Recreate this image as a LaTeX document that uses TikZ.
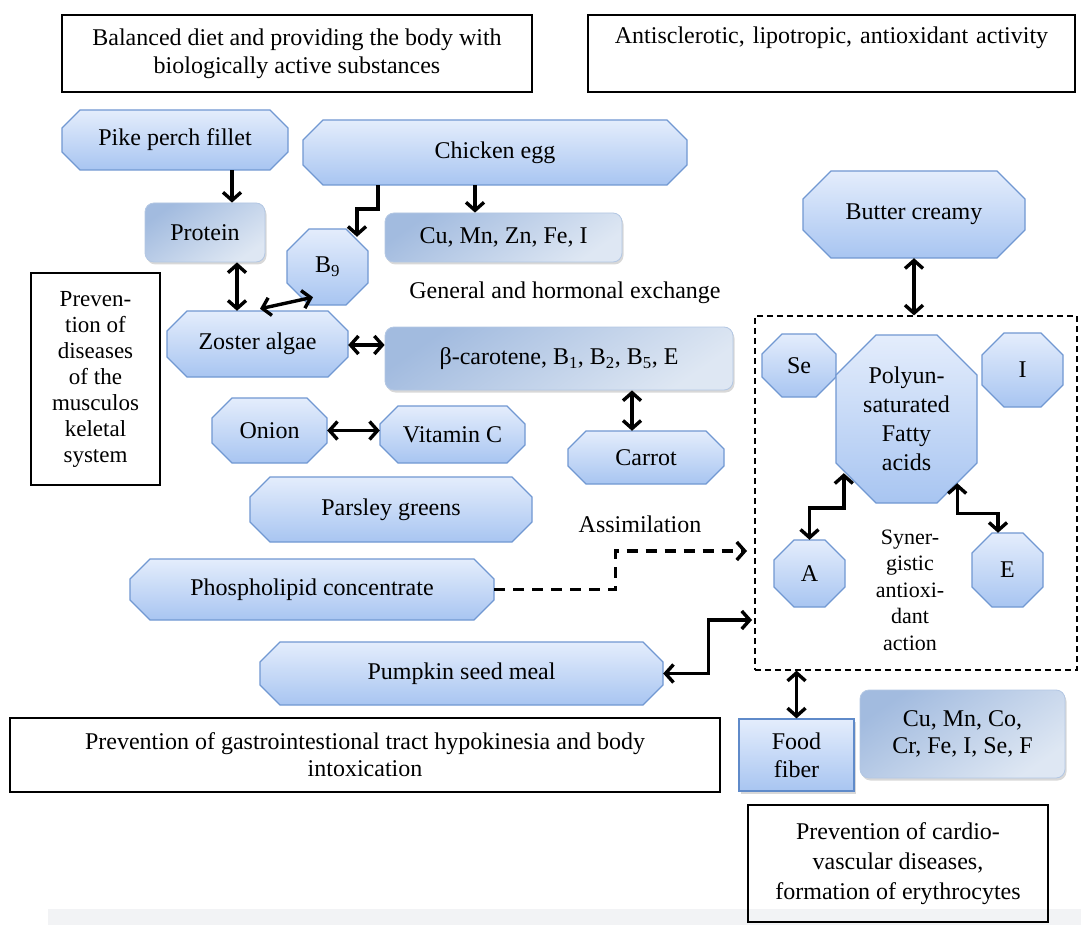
\documentclass[tikz,border=0pt]{standalone}
\usepackage{fontspec}
\setmainfont{Liberation Serif}
\usetikzlibrary{arrows.meta,shadows}
\definecolor{octtop}{HTML}{E4EDFC}
\definecolor{octbot}{HTML}{A8C5F1}
\definecolor{octline}{HTML}{7198D2}
\definecolor{rrdark}{HTML}{A2BBDF}
\definecolor{rrlight}{HTML}{DEE7F3}
\definecolor{rrline}{HTML}{B3C7E3}
\definecolor{ffline}{HTML}{5F8AC9}
\definecolor{bandgray}{HTML}{F2F3F5}
\tikzset{
  octfill/.style={draw=octline, line width=1.3pt, line join=round, top color=octtop, bottom color=octbot},
  octtext/.style={font=\fontsize{24}{29}\selectfont, inner sep=0pt, align=center},
  rrbox/.style={rounded corners=9pt, draw=rrline, line width=0.8pt, top color=rrdark, bottom color=rrlight, shading angle=35,
    drop shadow={shadow xshift=1.5pt, shadow yshift=-2.5pt, opacity=0.3},
    font=\fontsize{24}{27}\selectfont, align=center, inner sep=0pt},
  ffbox/.style={draw=ffline, line width=1.2pt, top color=octtop, bottom color=octbot,
    drop shadow={shadow xshift=1.5pt, shadow yshift=-2.5pt, opacity=0.3},
    font=\fontsize{24}{28}\selectfont, align=center, inner sep=0pt},
  plainbox/.style={draw=black, line width=1.1pt, align=center, inner sep=0pt, font=\fontsize{24}{28}\selectfont},
  dbox/.style={draw=black, line width=1.2pt, dash pattern=on 6pt off 4pt, inner sep=0pt},
  freetext/.style={font=\fontsize{24}{28}\selectfont, inner sep=0pt, align=center},
  conn/.style={draw=black, line width=3.4pt},
  dconn/.style={conn, dash pattern=on 11pt off 8pt},
  >={Straight Barb[length=8pt,width=18pt]}
}
% name, x1, y1, x2, y2, chamfer, text
\newcommand\octnode[7]{%
  \path[octfill] ({#2+#6},#3) -- ({#4-#6},#3) -- (#4,{#3+#6}) -- (#4,{#5-#6}) -- ({#4-#6},#5) -- ({#2+#6},#5) -- (#2,{#5-#6}) -- (#2,{#3+#6}) -- cycle;
  \node[octtext, minimum width={(#4-#2)*1pt}, minimum height={(#5-#3)*1pt}] (#1) at ({(#2+#4)/2},{(#3+#5)/2}) {#7};
}
\begin{document}
\begin{tikzpicture}[x=1pt,y=-1pt]
\useasboundingbox (0,0) rectangle (1081,925);
\fill[white] (0,0) rectangle (1081,925);
\fill[bandgray] (48,909) rectangle (1081,925);

% plain boxes
\node[plainbox, minimum width=470pt, minimum height=77pt] (tl) at (297,53.5) {Balanced diet and providing the body with\\biologically active substances};
\node[plainbox, text width=487pt, text height=29pt, text depth=48pt] (tr) at (831.5,53.5) {Antisclerotic, lipotropic, antioxidant activity};
\node[plainbox, minimum width=129pt, minimum height=212pt, font=\fontsize{23}{26}\selectfont] (prevm) at (95.5,379) {Preven-\\tion of\\diseases\\of the\\musculos\\keletal\\system};
\node[plainbox, minimum width=710pt, minimum height=74pt, font=\fontsize{24}{27}\selectfont] (gastro) at (365,755) {Prevention of gastrointestional tract hypokinesia and body\\intoxication};
\node[plainbox, minimum width=300pt, minimum height=117pt, font=\fontsize{24}{30}\selectfont] (cardio) at (898,863.5) {Prevention of cardio-\\vascular diseases,\\formation of erythrocytes};

% dashed group box
\node[dbox, minimum width=322pt, minimum height=354pt] (group) at (916,493) {};

% octagon nodes
\octnode{pike}{62}{110}{288}{170}{18}{Pike perch fillet}
\octnode{egg}{303}{120}{687}{185}{20}{Chicken egg}
\octnode{b9}{287}{229}{368}{305}{22}{B\textsubscript{9}}
\octnode{zoster}{167}{311}{348}{377}{20}{Zoster algae}
\octnode{onion}{212}{398}{327}{463}{20}{Onion}
\octnode{vitc}{380}{406}{525}{463}{18}{Vitamin C}
\octnode{carrot}{568}{431}{724}{484}{18}{Carrot}
\octnode{parsley}{250}{477}{532}{542}{20}{Parsley greens}
\octnode{phos}{130}{559}{494}{620}{20}{Phospholipid concentrate}
\octnode{pump}{260}{642}{663}{705}{20}{Pumpkin seed meal}
\octnode{butter}{803}{171}{1025}{258}{28}{Butter creamy}
\octnode{se}{762}{334}{836}{397}{20}{Se}
\octnode{pufa}{836}{335}{977}{503}{40}{Polyun-\\saturated\\Fatty\\acids}
\octnode{iod}{982}{333}{1063}{407}{22}{I}
\octnode{vita}{774}{540}{845}{607}{20}{A}
\octnode{vite}{972}{533}{1043}{607}{20}{E}

% rounded boxes
\node[rrbox, minimum width=120pt, minimum height=59pt] (protein) at (205,232.5) {Protein};
\node[rrbox, minimum width=237pt, minimum height=49pt] (cu) at (503.5,237.5) {Cu, Mn, Zn, Fe, I};
\node[rrbox, minimum width=348pt, minimum height=63pt] (bc) at (559,358.5) {β-carotene, B\textsubscript{1}, B\textsubscript{2}, B\textsubscript{5}, E};
\node[rrbox, minimum width=205pt, minimum height=88pt] (micro) at (962.5,734) {Cu, Mn, Co,\\Cr, Fe, I, Se, F};
\node[ffbox, minimum width=115pt, minimum height=72pt] (fiber) at (796.5,755) {Food\\fiber};

% free texts
\node[freetext] (gen) at (565,293) {General and hormonal exchange};
\node[freetext] (assim) at (640,524) {Assimilation};
\node[freetext, font=\fontsize{22}{26.5}\selectfont] (syn) at (910,590) {Syner-\\gistic\\antioxi-\\dant\\action};

% connectors
\draw[conn,->] ([xshift=57pt]pike.south) -- ([xshift=57pt]pike.south |- protein.north);
\draw[conn,->] ([xshift=-117pt]egg.south) -- ++(0,24) -| ([xshift=29.5pt,yshift=-8pt]b9.north);
\draw[conn,->] ([xshift=-20pt]egg.south) -- ([xshift=-20pt]egg.south |- cu.north);
\draw[conn,<->] ([xshift=32pt]protein.south) -- ([xshift=32pt]protein.south |- zoster.north);
\draw[conn,<->] ([xshift=2.5pt,yshift=2pt]zoster.north) -- ([xshift=-14.5pt,yshift=8pt]b9.south);
\draw[conn,<->] ([yshift=-1pt]zoster.east) -- ([yshift=-1pt]zoster.east -| bc.west);
\draw[conn,<->] ([xshift=-14pt]carrot.north) -- ([xshift=-14pt]carrot.north |- bc.south);
\draw[conn,<->] (onion.east) -- (onion.east -| vitc.west);
\draw[conn,<->] (butter.south) -- (butter.south |- group.north);
\coordinate (assimEnd) at (747,551);
\draw[dconn,->] (phos.east) -- ++(121,0) |- (assimEnd);
\coordinate (pumpEnd) at (752,620);
\draw[conn,<->] (pump.east) -| ++(45,-53.5) -- (pumpEnd);
\draw[conn,<->] (vita.north) -- ++(0,-32) -| ([xshift=8pt,yshift=30pt]pufa.south west);
\draw[conn,<->] ([xshift=-20pt,yshift=20pt]pufa.south east) -- ++(0,30) -| ([xshift=-9.5pt]vite.north);
\draw[conn,<->] (fiber.north) -- (fiber.north |- group.south);
\end{tikzpicture}
\end{document}
